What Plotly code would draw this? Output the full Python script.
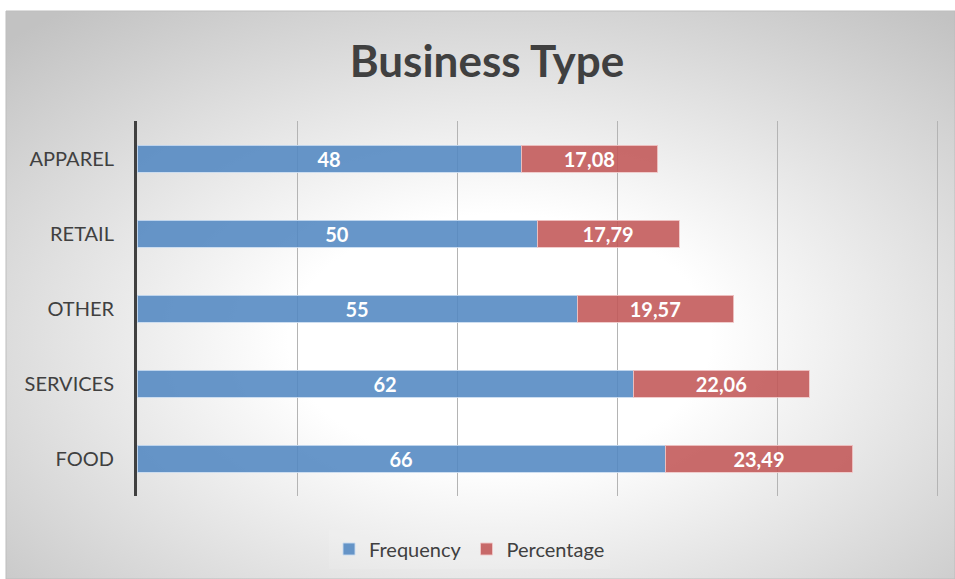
import base64
import plotly.graph_objects as go

categories = ["FOOD", "SERVICES", "OTHER", "RETAIL", "APPAREL"]
frequency = [66, 62, 55, 50, 48]
percentage = [23.49, 22.06, 19.57, 17.79, 17.08]

BLUE = "rgba(82,135,193,0.88)"
RED = "rgba(194,86,86,0.88)"
TEXT = "#404040"
FONT = "Lato"

# plot-area geometry in pixels (page 955x579)
W, H = 955, 579
L, R, T, B = 137, 16, 121, 83
pw, ph = W - L - R, H - T - B

# radial grey backdrop for the chart frame
svg = (
    '<svg xmlns="http://www.w3.org/2000/svg" width="949" height="568" '
    'viewBox="0 0 949 568" preserveAspectRatio="none">'
    '<defs><radialGradient id="g" cx="0.52" cy="0.58" r="0.74">'
    '<stop offset="0" stop-color="#ffffff"/>'
    '<stop offset="0.3" stop-color="#ffffff"/>'
    '<stop offset="1" stop-color="#c2c2c2"/>'
    '</radialGradient></defs>'
    '<rect width="949" height="568" fill="url(#g)"/></svg>'
)
bg_uri = "data:image/svg+xml;base64," + base64.b64encode(svg.encode()).decode()

fx0, fy0 = 6, 11  # frame origin in pixels
img_x = (fx0 - L) / pw
img_y = (H - B - fy0) / ph
img_sx = (W - fx0) / pw
img_sy = (H - fy0) / ph

label_font = dict(family=FONT, size=20, color="white", weight="bold")

fig = go.Figure()
fig.add_trace(go.Bar(
    y=categories, x=frequency, name="Frequency", orientation="h",
    marker=dict(color=BLUE, line=dict(color="rgba(200,218,240,0.9)", width=1)),
    texttemplate="%{x}", textposition="inside", insidetextanchor="middle",
    textangle=0, constraintext="none", textfont=label_font,
))
fig.add_trace(go.Bar(
    y=categories, x=percentage, name="Percentage", orientation="h",
    marker=dict(color=RED, line=dict(color="rgba(240,200,200,0.9)", width=1)),
    texttemplate="%{x:.2f}", textposition="inside", insidetextanchor="middle",
    textangle=0, constraintext="none", textfont=label_font,
))

fig.update_layout(
    width=W, height=H,
    margin=dict(l=L, r=R, t=T, b=B, autoexpand=False),
    barmode="stack", bargap=0.64,
    separators=",.",
    paper_bgcolor="white", plot_bgcolor="rgba(0,0,0,0)",
    font=dict(family=FONT, color=TEXT),
    title=dict(text="<b>Business Type</b>", x=487 / W,
               xanchor="center", y=1 - 62 / H, yanchor="middle",
               font=dict(family=FONT, size=44, color=TEXT)),
    xaxis=dict(range=[0, 100.25], tick0=0, dtick=20, showgrid=True,
               gridcolor="#b4b4b4", gridwidth=1, showticklabels=False,
               zeroline=False, showline=False, fixedrange=True),
    yaxis=dict(showline=True, linecolor="#404040", linewidth=3,
               showgrid=False, ticklabelstandoff=16,
               tickfont=dict(family=FONT, size=20, color=TEXT),
               range=[-0.5, 4.5]),
    legend=dict(orientation="h", x=(329 - L) / pw, xanchor="left",
                y=(H - B - 549) / ph, yanchor="middle",
                font=dict(family=FONT, size=20, color=TEXT),
                bgcolor="rgba(255,255,255,0.1)", itemwidth=30,
                traceorder="normal"),
    showlegend=True,
    images=[dict(source=bg_uri, xref="paper", yref="paper",
                 x=img_x, y=img_y, sizex=img_sx, sizey=img_sy,
                 xanchor="left", yanchor="top", sizing="stretch",
                 layer="below")],
    shapes=[dict(type="rect", xref="paper", yref="paper",
                 x0=img_x, y0=img_y - img_sy, x1=img_x + img_sx, y1=img_y,
                 line=dict(color="#bdbdbd", width=1), layer="below")],
)

fig.write_html("out.html")
